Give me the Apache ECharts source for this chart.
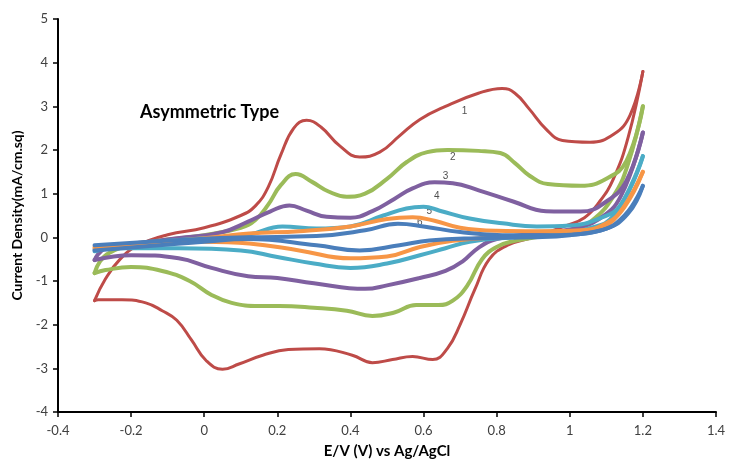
<!DOCTYPE html>
<html>
<head>
<meta charset="utf-8">
<script src="https://cdn.jsdelivr.net/npm/echarts@6/dist/echarts.min.js"></script>
<style>html,body{margin:0;padding:0;background:#fff}#c{width:730px;height:464px}</style>
</head>
<body>
<div id="c"></div>
<script>
// Curve 1 (red)
const c1Forward = [[-0.3,-1.45],[-0.27,-0.95],[-0.23,-0.5],[-0.18,-0.18],[-0.1,0.06],[0.0,0.22],[0.1,0.5],[0.14,0.72],[0.175,1.15],[0.21,1.9],[0.245,2.5],[0.28,2.68],[0.32,2.52],[0.37,2.1],[0.425,1.84],[0.48,1.95],[0.535,2.33],[0.59,2.7],[0.66,3.0],[0.75,3.3],[0.815,3.41],[0.85,3.3],[0.89,2.93],[0.935,2.48],[0.98,2.22],[1.055,2.18],[1.12,2.36],[1.165,2.8],[1.2,3.8]];
const c1Reverse = [[-0.3,-1.45],[-0.29,-1.43],[-0.225,-1.43],[-0.16,-1.5],[-0.115,-1.68],[-0.075,-1.9],[-0.035,-2.35],[0.005,-2.82],[0.05,-3.02],[0.095,-2.9],[0.16,-2.7],[0.23,-2.57],[0.315,-2.55],[0.405,-2.7],[0.46,-2.87],[0.515,-2.8],[0.57,-2.73],[0.625,-2.8],[0.665,-2.55],[0.7,-2.0],[0.74,-1.2],[0.78,-0.5],[0.83,-0.18],[0.9,0.0],[0.99,0.27],[1.04,0.45],[1.08,0.8],[1.12,1.35],[1.16,2.3],[1.2,3.8]];
// Curve 2 (green)
const c2Forward = [[-0.3,-0.82],[-0.285,-0.55],[-0.26,-0.36],[-0.2,-0.18],[-0.1,-0.05],[0.0,0.05],[0.1,0.22],[0.14,0.4],[0.175,0.75],[0.21,1.2],[0.25,1.45],[0.295,1.27],[0.34,1.05],[0.39,0.93],[0.44,1.0],[0.5,1.34],[0.555,1.73],[0.61,1.95],[0.665,2.0],[0.75,1.98],[0.81,1.93],[0.85,1.7],[0.89,1.41],[0.94,1.22],[1.03,1.18],[1.1,1.34],[1.155,1.75],[1.2,3.0]];
const c2Reverse = [[-0.3,-0.82],[-0.27,-0.75],[-0.2,-0.68],[-0.115,-0.77],[-0.04,-1.0],[0.02,-1.32],[0.075,-1.5],[0.15,-1.57],[0.205,-1.57],[0.3,-1.61],[0.39,-1.68],[0.46,-1.8],[0.52,-1.72],[0.58,-1.55],[0.64,-1.55],[0.68,-1.45],[0.72,-1.1],[0.76,-0.5],[0.8,-0.22],[0.85,-0.08],[0.92,0.02],[1.0,0.15],[1.06,0.38],[1.12,0.95],[1.16,1.7],[1.2,3.0]];
// Curve 3 (purple)
const c3Forward = [[-0.3,-0.52],[-0.28,-0.3],[-0.25,-0.2],[-0.15,-0.1],[-0.05,0.0],[0.05,0.12],[0.12,0.36],[0.18,0.59],[0.233,0.73],[0.28,0.61],[0.335,0.47],[0.4,0.45],[0.46,0.6],[0.52,0.88],[0.57,1.12],[0.63,1.26],[0.68,1.24],[0.753,1.07],[0.845,0.82],[0.935,0.6],[1.03,0.59],[1.1,0.82],[1.155,1.3],[1.2,2.4]];
const c3Reverse = [[-0.3,-0.52],[-0.2,-0.41],[-0.07,-0.48],[0.02,-0.7],[0.12,-0.89],[0.2,-0.93],[0.3,-1.05],[0.44,-1.18],[0.5,-1.1],[0.59,-0.93],[0.66,-0.77],[0.707,-0.55],[0.75,-0.24],[0.8,-0.04],[0.9,0.08],[1.0,0.18],[1.08,0.42],[1.14,0.95],[1.2,2.4]];
// Curve 4 (aqua)
const c4Forward = [[-0.3,-0.28],[-0.2,-0.15],[-0.1,-0.08],[0.0,-0.02],[0.12,0.06],[0.214,0.25],[0.307,0.2],[0.4,0.25],[0.49,0.5],[0.553,0.66],[0.6,0.7],[0.644,0.61],[0.726,0.43],[0.816,0.32],[0.91,0.25],[1.0,0.27],[1.08,0.43],[1.14,0.75],[1.2,1.86]];
const c4Reverse = [[-0.3,-0.32],[-0.25,-0.25],[-0.07,-0.25],[0.1,-0.3],[0.2,-0.45],[0.3,-0.6],[0.4,-0.7],[0.5,-0.6],[0.59,-0.41],[0.66,-0.25],[0.726,-0.1],[0.85,0.0],[0.95,0.05],[1.05,0.2],[1.12,0.5],[1.2,1.86]];
// Curve 5 (orange)
const c5Forward = [[-0.3,-0.22],[-0.15,-0.12],[0.0,-0.02],[0.123,0.09],[0.26,0.14],[0.4,0.25],[0.5,0.42],[0.57,0.46],[0.63,0.38],[0.7,0.22],[0.8,0.15],[0.91,0.14],[1.03,0.16],[1.1,0.32],[1.15,0.7],[1.2,1.5]];
const c5Reverse = [[-0.3,-0.25],[-0.15,-0.18],[0.0,-0.1],[0.123,-0.14],[0.26,-0.3],[0.4,-0.48],[0.5,-0.44],[0.59,-0.22],[0.68,-0.08],[0.8,0.0],[0.95,0.04],[1.05,0.12],[1.12,0.4],[1.2,1.5]];
// Curve 6 (blue)
const c6Forward = [[-0.3,-0.18],[-0.15,-0.1],[0.0,-0.03],[0.12,0.0],[0.307,0.03],[0.44,0.16],[0.53,0.31],[0.6,0.25],[0.7,0.12],[0.816,0.05],[0.95,0.05],[1.08,0.15],[1.15,0.5],[1.2,1.18]];
const c6Reverse = [[-0.3,-0.3],[-0.15,-0.2],[0.0,-0.1],[0.12,-0.04],[0.307,-0.18],[0.425,-0.3],[0.534,-0.18],[0.616,-0.07],[0.75,-0.02],[0.9,0.0],[1.0,0.05],[1.1,0.2],[1.16,0.55],[1.2,1.18]];

const curveLabels = [[0.712,2.89,'1'],[0.68,1.84,'2'],[0.66,1.41,'3'],[0.636,0.93,'4'],[0.616,0.59,'5'],[0.59,0.34,'6']];
const chartTitle = 'Asymmetric Type';
const xTitle = 'E/V (V) vs Ag/AgCl';
const yTitle = 'Current Density(mA/cm.sq)';

const curves = [
  {f:c1Forward, r:c1Reverse, color:'#BE4B48', w:3},
  {f:c2Forward, r:c2Reverse, color:'#9BBB59', w:4},
  {f:c3Forward, r:c3Reverse, color:'#7F60A0', w:4},
  {f:c4Forward, r:c4Reverse, color:'#4BACC6', w:4},
  {f:c5Forward, r:c5Reverse, color:'#F79646', w:4},
  {f:c6Forward, r:c6Reverse, color:'#4A7EBB', w:4}
];

const series = [];
curves.forEach(c => {
  [c.f, c.r].forEach(d => {
    series.push({
      type:'line', data:d, smooth:0.45, showSymbol:false,
      lineStyle:{color:c.color, width:c.w, cap:'round', join:'round'}, silent:true, animation:false
    });
  });
});
series.push({
  type:'scatter', data:curveLabels, symbolSize:0, silent:true, animation:false,
  label:{show:true, position:'inside', formatter:p=>p.value[2], color:'#222', fontSize:10, fontFamily:'Liberation Sans'}
});

const chart = echarts.init(document.getElementById('c'));
chart.setOption({
  animation:false,
  backgroundColor:'#fff',
  grid:{left:58, right:14, top:19, bottom:46},
  xAxis:{
    type:'value', min:-0.4, max:1.4, interval:0.2,
    axisLine:{onZero:false, lineStyle:{color:'#000', width:2}},
    axisTick:{show:true, length:5, lineStyle:{color:'#000', width:1.5}},
    splitLine:{show:false},
    axisLabel:{color:'#404040', fontSize:13, margin:12, fontFamily:'Lato'},
    name:xTitle, nameLocation:'middle', nameGap:32,
    nameTextStyle:{color:'#000', fontWeight:'bold', fontSize:15, fontFamily:'Lato'}
  },
  yAxis:{
    type:'value', min:-4, max:5, interval:1,
    axisLine:{onZero:false, lineStyle:{color:'#000', width:2}},
    axisTick:{show:true, length:5, lineStyle:{color:'#000', width:1.5}},
    splitLine:{show:false},
    axisLabel:{color:'#404040', fontSize:13, margin:10, fontFamily:'Lato'},
    name:yTitle, nameLocation:'middle', nameGap:34, nameRotate:90,
    nameTextStyle:{color:'#000', fontWeight:'bold', fontSize:14, fontFamily:'Lato'}
  },
  graphic:[{
    type:'text', left:140, top:103,
    style:{text:chartTitle, font:'bold 18px Lato', fill:'#000'}
  }],
  series:series
});
</script>
</body>
</html>
